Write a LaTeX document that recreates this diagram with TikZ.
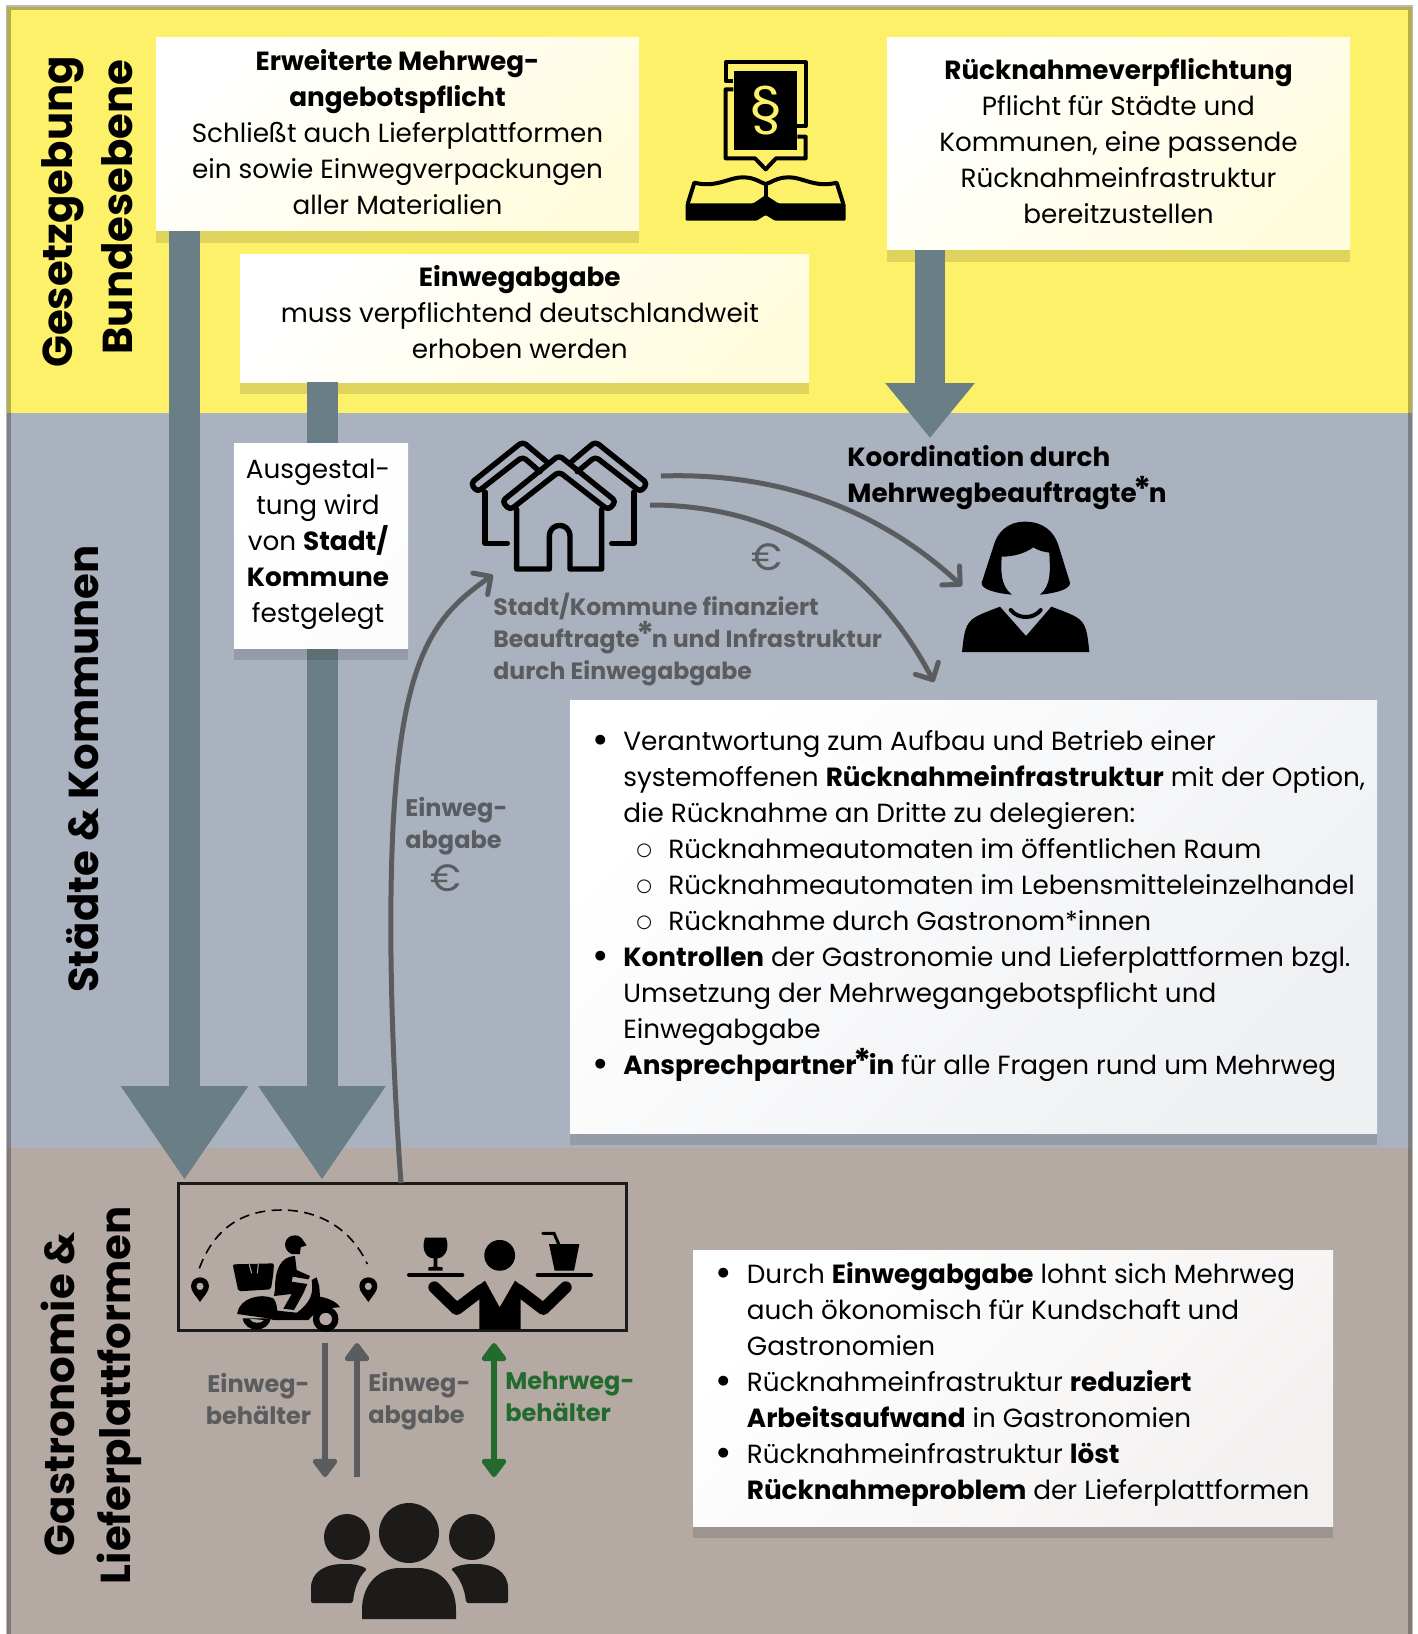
\documentclass[tikz,border=0pt]{standalone}
\usepackage{fontspec}
\setmainfont{Poppins}
\newfontfamily\symfont{DejaVu Sans}
\usetikzlibrary{arrows.meta,shadows}
\definecolor{lawyellow}{HTML}{FDF169}
\definecolor{cityblue}{HTML}{ABB2BF}
\definecolor{gastrobrown}{HTML}{B5A9A3}
\definecolor{bargrey}{HTML}{6A7F85}
\definecolor{flowgrey}{HTML}{5A5C60}
\definecolor{reusegreen}{HTML}{236B2D}
\definecolor{iconblack}{HTML}{1C1B19}
\newcommand{\bulletitem}{\makebox[16pt][l]{\hspace{.5pt}\fontsize{20}{18}\selectfont\raisebox{-1.5pt}{•}}}
\newcommand{\bulletgap}{\hspace*{16pt}}
\newcommand{\circleitem}{\hspace*{6.5pt}\makebox[16pt][l]{\symfont\fontsize{9}{18}\selectfont\raisebox{1.5pt}{○}}}
\newcommand{\genderstar}{{\kern-1.5pt\fontsize{17}{17}\selectfont\raisebox{.5pt}{*}\kern-1.5pt}}
\tikzset{
  whitebox/.style={inner sep=0pt,shading=axis,
    drop shadow={shadow xshift=0pt,shadow yshift=-6pt,fill=black,opacity=.12}},
  lawbox/.style={whitebox,left color=white,right color=lawyellow!22!white,shading angle=45},
  citybox/.style={whitebox,left color=white,right color=cityblue!20!white,shading angle=45},
  gastrobox/.style={whitebox,left color=white,right color=gastrobrown!16!white,shading angle=45},
  boxtext/.style={inner sep=0pt,align=center,font=\fontsize{13.13}{18}\selectfont},
  listtext/.style={anchor=west,inner sep=0pt,align=left,font=\fontsize{13.13}{18}\selectfont},
  heading/.style={rotate=90,inner sep=0pt,align=center,font=\fontsize{20.9}{29}\selectfont\bfseries},
  flowlabel/.style={inner sep=0pt,align=left,text=flowgrey,font=\fontsize{12}{16}\selectfont\bfseries},
  bigarrow/.style={draw=bargrey,line width=15.5pt,-{Triangle[width=60.5pt,length=47pt]}},
  smallhead/.style={draw=bargrey,line width=15pt,-{Triangle[width=43pt,length=27.5pt]}},
  flowcurve/.style={draw=flowgrey,line width=2.5pt,-{Straight Barb[round,length=6.5pt,width=13pt,line width=2.5pt]}},
  flowstraight/.style={draw=flowgrey,line width=3.2pt,-{Triangle[round,width=14pt,length=10pt]}},
  reusearrow/.style={draw=reusegreen,line width=3.2pt,{Triangle[round,width=14pt,length=10pt]}-{Triangle[round,width=14pt,length=10pt]}},
  iconline/.style={draw=black,line width=2.7pt,line join=round,line cap=round}
}
\begin{document}
\begin{tikzpicture}[x=.5pt,y=-.5pt]
  \useasboundingbox (0,0) rectangle (1418,1634);
  \fill[white] (0,0) rectangle (1418,1634);
  \fill[lawyellow] (7,7) rectangle (1412,413);
  \fill[cityblue] (7,413) rectangle (1412,1148);
  \fill[gastrobrown] (7,1148) rectangle (1412,1634);
  \draw[black,opacity=.28,line width=2.5pt] (8.5,1634) -- (8.5,7.5) -- (1410.5,7.5) -- (1410.5,1634);

  \node[heading] (lawHeadA) at (63,212) {Gesetzgebung};
  \node[heading] (lawHeadB) at (117,207) {Bundesebene};
  \node[heading] (cityHead) at (83,769) {Städte \& Kommunen};
  \node[heading] (gastroHeadA) at (58,1394) {Gastronomie \&};
  \node[heading] (gastroHeadB) at (119,1395.5) {Lieferplattformen};

  \node[lawbox,minimum width=241.5pt,minimum height=96.5pt] (mehrwegBox) at (397.5,134) {};
  \node[lawbox,minimum width=284.5pt,minimum height=64pt] (abgabeBox) at (524.5,318) {};
  \node[lawbox,minimum width=231.5pt,minimum height=106pt] (ruecknahmeBox) at (1118.5,143.5) {};
  \node[boxtext] (mehrwegText) at (397.5,132)
    {\textbf{Erweiterte Mehrweg-}\\\textbf{angebotspflicht}\\Schließt auch Lieferplattformen\\ein sowie Einwegverpackungen\\aller Materialien};
  \node[boxtext] (abgabeText) at (519.8,311.8)
    {\textbf{Einwegabgabe}\\muss verpflichtend deutschlandweit\\erhoben werden};
  \node[boxtext] (ruecknahmeText) at (1118.5,141)
    {\textbf{Rücknahmeverpflichtung}\\Pflicht für Städte und\\Kommunen, eine passende\\Rücknahmeinfrastruktur\\bereitzustellen};

  \coordinate (tipMehrweg) at (184.5,1180);
  \coordinate (tipAbgabe) at (322,1180);
  \coordinate (tipKoord) at (930,438);
  \draw[bigarrow] (mehrwegBox.south -| tipMehrweg) -- (tipMehrweg);
  \draw[bigarrow] (abgabeBox.south -| tipAbgabe) -- (tipAbgabe);
  \draw[smallhead] (ruecknahmeBox.south -| tipKoord) -- (tipKoord);

  \node[citybox,left color=white,right color=white!96!cityblue,shading angle=45,minimum width=87pt,minimum height=102.5pt] (ausgestaltBox) at (321,545.5) {};
  \node[boxtext] (ausgestaltText) at (318,544.5)
    {Ausgestal-\\tung wird\\von \textbf{Stadt/}\\\textbf{Kommune}\\festgelegt};

  \node[flowlabel,anchor=west,text=black,font=\fontsize{13.13}{18}\selectfont\bfseries] (koordLabel) at (847,478) {Koordination durch\\Mehrwegbeauftragte\genderstar n};
  \node[flowlabel,anchor=west,font=\fontsize{11.8}{16}\selectfont\bfseries] (finanzLabel) at (493,640) {Stadt/Kommune finanziert\\Beauftragte\genderstar n und Infrastruktur\\durch Einwegabgabe};
  \node[flowlabel,anchor=west] (cityAbgabeLabel) at (405,826) {Einweg-\\abgabe};
  \node[text=flowgrey,inner sep=0pt,font=\fontsize{19}{19}\selectfont] (euroTop) at (767,557) {€};
  \node[text=flowgrey,inner sep=0pt,font=\fontsize{19}{19}\selectfont] (euroLeft) at (446,878) {€};

  \node[citybox,minimum width=403.5pt,minimum height=216.5pt] (cityList) at (973.5,916.5) {};
  \node[listtext] (cityListText) at (591,906) {%
    \bulletitem Verantwortung zum Aufbau und Betrieb einer\\
    \bulletgap systemoffenen \textbf{Rücknahmeinfrastruktur} mit der Option,\\
    \bulletgap die Rücknahme an Dritte zu delegieren:\\
    \bulletgap\circleitem Rücknahmeautomaten im öffentlichen Raum\\
    \bulletgap\circleitem Rücknahmeautomaten im Lebensmitteleinzelhandel\\
    \bulletgap\circleitem Rücknahme durch Gastronom*innen\\
    \bulletitem \textbf{Kontrollen} der Gastronomie und Lieferplattformen bzgl.\\
    \bulletgap Umsetzung der Mehrwegangebotspflicht und\\
    \bulletgap Einwegabgabe\\
    \bulletitem \textbf{Ansprechpartner\genderstar in} für alle Fragen rund um Mehrweg};

  \node[gastrobox,minimum width=320pt,minimum height=138pt] (gastroList) at (1013,1388) {};
  \node[listtext] (gastroListText) at (714.5,1384) {%
    \bulletitem Durch \textbf{Einwegabgabe} lohnt sich Mehrweg\\
    \bulletgap auch ökonomisch für Kundschaft und\\
    \bulletgap Gastronomien\\
    \bulletitem Rücknahmeinfrastruktur \textbf{reduziert}\\
    \bulletgap\textbf{Arbeitsaufwand} in Gastronomien\\
    \bulletitem Rücknahmeinfrastruktur \textbf{löst}\\
    \bulletgap\textbf{Rücknahmeproblem} der Lieferplattformen};

  \node[draw=iconblack,line width=1.5pt,minimum width=224pt,minimum height=73.5pt,inner sep=0pt] (gastroRect) at (402,1256.5) {};

  \coordinate (fromRect) at (401,1183);
  \coordinate (toHouses) at (493,575);
  \coordinate (housesA) at (661,476);
  \coordinate (womanIn) at (962,586);
  \coordinate (housesB) at (650,505);
  \coordinate (infraIn) at (934,682);
  \draw[flowcurve] (fromRect) .. controls (392,1060) and (388,930) .. (393,827) .. controls (402,655) and (435,615) .. (toHouses);
  \draw[flowcurve] (housesA) .. controls (780,472) and (880,510) .. (womanIn);
  \draw[flowcurve] (housesB) .. controls (770,505) and (870,560) .. (infraIn);

  % houses
  \begin{scope}[shift={(460,430)},x=.16667pt,y=-.16667pt]
    \draw[iconline,rounded corners=2pt] (297,76) -- (468,214) -- (445,240) -- (297,125) -- (150,240) -- (126,214) -- cycle;
    \draw[iconline] (170,238) -- (170,417) -- (268,417) -- (268,320) .. controls (268,275) and (330,275) .. (330,320) -- (330,417) -- (425,417) -- (425,238);
    \draw[iconline,rounded corners=2pt] (262,97) -- (188,35) -- (32,160) -- (52,186) -- (188,80) -- (240,125);
    \draw[iconline,rounded corners=2pt] (332,97) -- (406,35) -- (562,160) -- (542,186) -- (406,80) -- (352,125);
    \draw[iconline] (75,186) -- (75,340) -- (142,340);
    \draw[iconline] (522,186) -- (522,340) -- (455,340);
  \end{scope}

  % woman
  \begin{scope}[shift={(950,510)},x=.16667pt,y=-.16667pt]
    \fill[black] (225,35) .. controls (170,35) and (140,70) .. (130,110) -- (95,218) .. controls (92,238) and (140,250) .. (185,254)
      .. controls (150,225) and (153,180) .. (155,140) .. controls (190,140) and (225,130) .. (250,112)
      .. controls (265,122) and (280,125) .. (298,128) .. controls (300,180) and (305,225) .. (270,254)
      .. controls (315,250) and (362,238) .. (360,218) -- (325,105) .. controls (312,65) and (280,35) .. (225,35) -- cycle;
    \fill[black] (36,426) .. controls (42,370) and (45,340) .. (75,322) .. controls (95,310) and (125,300) .. (150,290) -- (228,378) -- (304,290)
      .. controls (330,300) and (360,310) .. (380,322) .. controls (410,340) and (412,370) .. (418,426) -- cycle;
    \draw[black,line width=2pt,line cap=round] (182,300) .. controls (205,328) and (250,328) .. (272,300);
  \end{scope}

  % book
  \begin{scope}[shift={(640,30)},x=.16667pt,y=-.16667pt]
    \draw[black,line width=2pt,line join=round] (280,152) -- (257,152) -- (257,97) -- (497,97) -- (497,288) -- (472,288);
    \draw[black,line width=2pt,line join=round] (472,320) -- (497,320) -- (497,385) -- (408,385) -- (377,418) -- (345,385) -- (257,385) -- (257,178) -- (280,178);
    \fill[black] (281,122) rectangle (472,360);
    \node[text=lawyellow,inner sep=0pt,font=\fontsize{27}{27}\selectfont] (paragraphSign) at (377,243) {§};
    \draw[black,line width=2pt,line join=round] (143,522) -- (163,458) .. controls (230,475) and (270,440) .. (310,442) .. controls (345,442) and (365,460) .. (377,462) .. controls (390,460) and (410,442) .. (445,442) .. controls (485,440) and (525,475) .. (590,458) -- (610,522);
    \draw[black,line width=2pt] (377,460) -- (377,515);
    \fill[black,rounded corners=.6pt] (137,520) -- (340,520) -- (377,495) -- (415,520) -- (617,520) -- (617,572) -- (405,572) -- (377,555) -- (350,572) -- (137,572) -- cycle;
  \end{scope}

  % courier
  \begin{scope}[shift={(160,1170)},x=.16667pt,y=-.16667pt]
    \draw[black,line width=.8pt,dash pattern=on 5pt off 3.2pt] (118,295) .. controls (170,155) and (270,120) .. (365,120) .. controls (470,120) and (570,170) .. (622,282);
    \foreach \pinx in {120,625} {
      \fill[black,even odd rule] (\pinx,396) .. controls (\pinx-10,380) and (\pinx-27,365) .. (\pinx-27,349) .. controls (\pinx-27,313) and (\pinx+27,313) .. (\pinx+27,349) .. controls (\pinx+27,365) and (\pinx+10,380) .. (\pinx,396) -- cycle
        (\pinx+11,349) .. controls (\pinx+11,334) and (\pinx-11,334) .. (\pinx-11,349) .. controls (\pinx-11,364) and (\pinx+11,364) .. (\pinx+11,349) -- cycle;
    }
    \fill[black,rounded corners=1pt] (218,283) -- (342,280) -- (340,310) -- (333,358) -- (235,364) -- cycle;
    \draw[gastrobrown,line width=.5pt] (268,283) -- (275,310);
    \draw[gastrobrown,line width=.5pt] (295,281) -- (292,310);
    \fill[black] (405,196) .. controls (370,196) and (365,240) .. (395,252) -- (420,252) -- (422,232) -- (440,226) -- (430,212) .. controls (425,202) and (415,196) .. (405,196) -- cycle;
    \fill[black] (345,358) .. controls (345,300) and (360,260) .. (405,258) -- (410,300) -- (450,318) -- (445,328) -- (398,320) -- (395,335) -- (442,342) -- (430,370) -- (402,420) -- (370,416) -- (395,372) -- (342,378) -- cycle;
    \fill[black] (232,428) .. controls (240,385) and (300,368) .. (340,385) .. controls (352,400) and (350,415) .. (352,422) -- (410,428) .. controls (450,400) and (462,370) .. (455,330) -- (470,322) -- (478,350) -- (480,380) .. controls (510,385) and (535,400) .. (540,412) .. controls (500,412) and (465,425) .. (445,450) -- (340,450) -- (325,445) -- (232,432) -- cycle;
    \fill[black,even odd rule] (248,445) .. controls (255,490) and (325,490) .. (332,445) -- cycle (268,446) .. controls (275,462) and (305,462) .. (312,450) -- cycle;
    \fill[black,even odd rule] (535,447) .. controls (535,497) and (459,497) .. (459,447) .. controls (459,397) and (535,397) .. (535,447) -- cycle
      (516,447) .. controls (516,422) and (478,422) .. (478,447) .. controls (478,472) and (516,472) .. (516,447) -- cycle;
  \end{scope}

  % waiter
  \begin{scope}[shift={(160,1170)},x=.16667pt,y=-.16667pt]
    \fill[black] (1019,256) circle[radius=7.7pt];
    \fill[black] (975,332) -- (1019,412) -- (1065,332) -- (1082,345) -- (1082,478) -- (958,478) -- (958,345) -- cycle;
    \draw[black,line width=6pt,line cap=round,line join=round] (823,352) -- (890,417) -- (965,360);
    \draw[black,line width=6pt,line cap=round,line join=round] (1217,352) -- (1150,417) -- (1075,360);
    \draw[black,line width=2pt,line cap=round] (747,315) -- (907,315);
    \draw[black,line width=2pt,line cap=round] (1133,315) -- (1293,315);
    \fill[black] (795,203) -- (858,203) .. controls (872,240) and (850,265) .. (832,265) -- (832,290) -- (848,292) -- (848,302) -- (805,302) -- (805,292) -- (821,290) -- (821,265) .. controls (800,265) and (782,240) .. (795,203) -- cycle;
    \fill[black] (1167,222) -- (1258,222) -- (1242,302) -- (1184,302) -- cycle;
    \draw[black,line width=1.5pt,line cap=round] (1148,190) -- (1182,190) -- (1196,222);
  \end{scope}

  % people
  \fill[iconblack] (409,1533) circle[radius=15pt];
  \fill[iconblack] (347,1537) circle[radius=11.5pt];
  \fill[iconblack] (472,1537) circle[radius=11.5pt];
  \fill[iconblack] (362,1619) -- (362,1610) .. controls (362,1585) and (378,1568) .. (400,1568) -- (418,1568) .. controls (440,1568) and (456,1585) .. (456,1610) -- (456,1619) -- cycle;
  \fill[iconblack,rounded corners=1pt] (311,1603) -- (311,1590) .. controls (311,1572) and (325,1564) .. (345,1564) .. controls (355,1564) and (362,1566) .. (367,1569) .. controls (358,1578) and (354,1590) .. (353,1603) -- cycle;
  \fill[iconblack,rounded corners=1pt] (508,1603) -- (508,1590) .. controls (508,1572) and (494,1564) .. (474,1564) .. controls (464,1564) and (457,1566) .. (451,1569) .. controls (460,1578) and (465,1590) .. (466,1603) -- cycle;

  \coordinate (rectDownA) at (325,1343);
  \coordinate (crowdDownA) at (325,1477);
  \coordinate (crowdUpB) at (357,1477);
  \coordinate (rectUpB) at (357,1343);
  \coordinate (rectGreen) at (494,1343);
  \coordinate (crowdGreen) at (494,1477);
  \draw[flowstraight] (rectDownA) -- (crowdDownA);
  \draw[flowstraight] (crowdUpB) -- (rectUpB);
  \draw[reusearrow] (rectGreen) -- (crowdGreen);

  \node[flowlabel,align=center] (behaelterLabel) at (258.5,1399) {Einweg-\\behälter};
  \node[flowlabel,anchor=west] (gastroAbgabeLabel) at (368,1401) {Einweg-\\abgabe};
  \node[flowlabel,anchor=west,text=reusegreen] (reuseLabel) at (505,1396.5) {Mehrweg-\\behälter};
\end{tikzpicture}
\end{document}
